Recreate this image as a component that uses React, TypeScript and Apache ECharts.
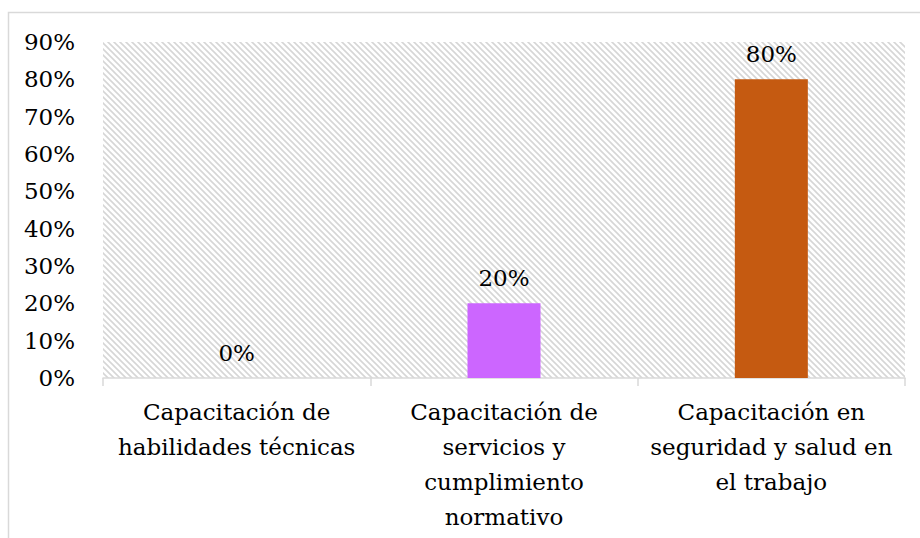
import React, { useEffect, useRef } from "react";
import * as echarts from "echarts";

const categories = [
  "Capacitación de\nhabilidades técnicas",
  "Capacitación de\nservicios y\ncumplimiento\nnormativo",
  "Capacitación en\nseguridad y salud en\nel trabajo",
];
const values = [0, 20, 80];
const barColors = ["#4472C4", "#CC66FF", "#C55A11"];
const yMin = 0;
const yMax = 90;
const yInterval = 10;

const FONT = "DejaVu Serif";

const hatch =
  "data:image/svg+xml;charset=utf-8," +
  encodeURIComponent(
    "<svg xmlns='http://www.w3.org/2000/svg' width='6' height='6'><path d='M-1,-1 L7,7 M-1,5 L1,7 M5,-1 L7,1' stroke='#d6d6d6' stroke-width='1.6'/></svg>"
  );

export default function App() {
  const ref = useRef<HTMLDivElement>(null);
  useEffect(() => {
    if (!ref.current) return;
    const chart = echarts.init(ref.current, null, { renderer: "svg" });
    chart.setOption({
      animation: false,
      backgroundColor: "#ffffff",
      textStyle: { fontFamily: FONT },
      graphic: [
        {
          type: "rect",
          shape: { x: 8.5, y: 12.5, width: 1000, height: 1000 },
          style: { fill: "none", stroke: "#d9d9d9", lineWidth: 1.5 },
          z: -1,
        },
      ],
      grid: {
        left: 103,
        right: 15,
        top: 42,
        bottom: 160,
        show: true,
        borderWidth: 0,
        backgroundColor: { image: hatch, repeat: "repeat" } as any,
      },
      xAxis: {
        type: "category",
        data: categories,
        axisLine: { show: true, lineStyle: { color: "#d9d9d9", width: 1.5 } },
        axisTick: { show: true, length: 8, lineStyle: { color: "#d9d9d9", width: 1.5 } },
        axisLabel: {
          interval: 0,
          color: "#000",
          fontFamily: FONT,
          fontSize: 23,
          lineHeight: 35,
          margin: 16,
        },
      },
      yAxis: {
        type: "value",
        min: yMin,
        max: yMax,
        interval: yInterval,
        axisLine: { show: false },
        axisTick: { show: false },
        splitLine: { show: false },
        axisLabel: {
          formatter: "{value}%",
          color: "#000",
          fontFamily: FONT,
          fontSize: 23,
          margin: 28,
        },
      },
      series: [
        {
          type: "bar",
          barWidth: 73,
          data: values.map((v, i) => ({ value: v, itemStyle: { color: barColors[i] } })),
          label: {
            show: true,
            position: "top",
            distance: 14,
            formatter: "{c}%",
            color: "#000",
            fontFamily: FONT,
            fontSize: 23,
          },
        },
      ],
    });
    return () => chart.dispose();
  }, []);
  return (
    <div
      ref={ref}
      style={{ position: "fixed", left: 0, top: 0, width: 920, height: 538 }}
    />
  );
}
